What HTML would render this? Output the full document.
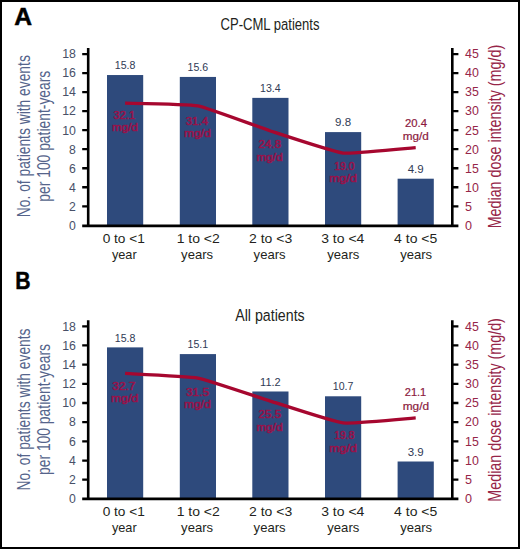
<!DOCTYPE html>
<html><head><meta charset="utf-8"><style>
html,body{margin:0;padding:0;background:#fff;}
svg{display:block;font-family:"Liberation Sans", sans-serif;}
</style></head><body>
<svg width="520" height="549" viewBox="0 0 520 549">
<rect x="0" y="0" width="520" height="549" fill="#fff"/>
<text x="14.2" y="24.85" textLength="17.8" lengthAdjust="spacingAndGlyphs" font-weight="bold" font-size="24.3" fill="#000" stroke="#000" stroke-width="0.5">A</text>
<text x="220.5" y="29.6" textLength="99" lengthAdjust="spacingAndGlyphs" font-size="16.3" fill="#231f20">CP-CML patients</text>
<rect x="107.0" y="75.04" width="36.2" height="150.26" fill="#2e4a7c"/>
<rect x="179.8" y="76.94" width="36.2" height="148.36" fill="#2e4a7c"/>
<rect x="252.3" y="97.87" width="36.2" height="127.43" fill="#2e4a7c"/>
<rect x="325.0" y="132.10" width="36.2" height="93.20" fill="#2e4a7c"/>
<rect x="397.6" y="178.70" width="36.2" height="46.60" fill="#2e4a7c"/>
<path d="M88.2,48.02 V225.9 M452.3,48.02 V225.9 M82.2,225.9 H458.4" stroke="#000" stroke-width="2.6" fill="none"/>
<path d=" M82.2,206.28 H88.2 M82.2,187.26 H88.2 M82.2,168.24 H88.2 M82.2,149.22 H88.2 M82.2,130.20 H88.2 M82.2,111.18 H88.2 M82.2,92.16 H88.2 M82.2,73.14 H88.2 M82.2,54.12 H88.2 M452.3,206.28 H458.4 M452.3,187.26 H458.4 M452.3,168.24 H458.4 M452.3,149.22 H458.4 M452.3,130.20 H458.4 M452.3,111.18 H458.4 M452.3,92.16 H458.4 M452.3,73.14 H458.4 M452.3,54.12 H458.4" stroke="#000" stroke-width="2.3" fill="none"/>
<text x="75.9" y="229.60000000000002" text-anchor="end" textLength="6.8" lengthAdjust="spacingAndGlyphs" font-size="13.5" fill="#485068">0</text>
<text x="75.9" y="210.58" text-anchor="end" textLength="6.8" lengthAdjust="spacingAndGlyphs" font-size="13.5" fill="#485068">2</text>
<text x="75.9" y="191.56000000000003" text-anchor="end" textLength="6.8" lengthAdjust="spacingAndGlyphs" font-size="13.5" fill="#485068">4</text>
<text x="75.9" y="172.54000000000002" text-anchor="end" textLength="6.8" lengthAdjust="spacingAndGlyphs" font-size="13.5" fill="#485068">6</text>
<text x="75.9" y="153.52000000000004" text-anchor="end" textLength="6.8" lengthAdjust="spacingAndGlyphs" font-size="13.5" fill="#485068">8</text>
<text x="75.9" y="134.50000000000003" text-anchor="end" textLength="13.7" lengthAdjust="spacingAndGlyphs" font-size="13.5" fill="#485068">10</text>
<text x="75.9" y="115.48" text-anchor="end" textLength="13.7" lengthAdjust="spacingAndGlyphs" font-size="13.5" fill="#485068">12</text>
<text x="75.9" y="96.46000000000002" text-anchor="end" textLength="13.7" lengthAdjust="spacingAndGlyphs" font-size="13.5" fill="#485068">14</text>
<text x="75.9" y="77.44000000000001" text-anchor="end" textLength="13.7" lengthAdjust="spacingAndGlyphs" font-size="13.5" fill="#485068">16</text>
<text x="75.9" y="58.42" text-anchor="end" textLength="13.7" lengthAdjust="spacingAndGlyphs" font-size="13.5" fill="#485068">18</text>
<text x="465.0" y="229.60000000000002" textLength="7.0" lengthAdjust="spacingAndGlyphs" font-size="13.5" fill="#962548">0</text>
<text x="465.0" y="210.58" textLength="7.0" lengthAdjust="spacingAndGlyphs" font-size="13.5" fill="#962548">5</text>
<text x="465.0" y="191.56" textLength="13.8" lengthAdjust="spacingAndGlyphs" font-size="13.5" fill="#962548">10</text>
<text x="465.0" y="172.54000000000002" textLength="13.8" lengthAdjust="spacingAndGlyphs" font-size="13.5" fill="#962548">15</text>
<text x="465.0" y="153.52" textLength="13.8" lengthAdjust="spacingAndGlyphs" font-size="13.5" fill="#962548">20</text>
<text x="465.0" y="134.5" textLength="13.8" lengthAdjust="spacingAndGlyphs" font-size="13.5" fill="#962548">25</text>
<text x="465.0" y="115.48" textLength="13.8" lengthAdjust="spacingAndGlyphs" font-size="13.5" fill="#962548">30</text>
<text x="465.0" y="96.46" textLength="13.8" lengthAdjust="spacingAndGlyphs" font-size="13.5" fill="#962548">35</text>
<text x="465.0" y="77.43999999999998" textLength="13.8" lengthAdjust="spacingAndGlyphs" font-size="13.5" fill="#962548">40</text>
<text x="465.0" y="58.42" textLength="13.8" lengthAdjust="spacingAndGlyphs" font-size="13.5" fill="#962548">45</text>
<path d="M125.10,103.19 C129.83,103.36 188.46,104.05 197.90,105.85 C207.34,107.66 260.96,127.89 270.40,130.96 C279.84,134.03 333.66,151.94 343.10,153.02 C352.54,154.11 410.98,148.04 415.70,147.70" stroke="#a6072f" stroke-width="3.3" fill="none" stroke-linecap="butt" stroke-linejoin="round"/>
<text x="125.1" y="69.242" text-anchor="middle" textLength="20.6" lengthAdjust="spacingAndGlyphs" font-size="11.2" fill="#2f3a55">15.8</text>
<text x="197.9" y="71.14400000000002" text-anchor="middle" textLength="20.6" lengthAdjust="spacingAndGlyphs" font-size="11.2" fill="#2f3a55">15.6</text>
<text x="270.40000000000003" y="92.06600000000002" text-anchor="middle" textLength="20.6" lengthAdjust="spacingAndGlyphs" font-size="11.2" fill="#2f3a55">13.4</text>
<text x="343.1" y="126.302" text-anchor="middle" textLength="16.0" lengthAdjust="spacingAndGlyphs" font-size="11.2" fill="#2f3a55">9.8</text>
<text x="415.70000000000005" y="172.901" text-anchor="middle" textLength="16.0" lengthAdjust="spacingAndGlyphs" font-size="11.2" fill="#2f3a55">4.9</text>
<text x="124.4" y="118.8" text-anchor="middle" textLength="21.599999999999998" lengthAdjust="spacingAndGlyphs" font-size="10.6" fill="#98124a" stroke="#98124a" stroke-width="0.55">32.1</text>
<text x="124.9" y="131.3" text-anchor="middle" textLength="26.0" lengthAdjust="spacingAndGlyphs" font-size="10.6" fill="#98124a" stroke="#98124a" stroke-width="0.55">mg/d</text>
<text x="196.9" y="125.0" text-anchor="middle" textLength="22.4" lengthAdjust="spacingAndGlyphs" font-size="10.6" fill="#98124a" stroke="#98124a" stroke-width="0.55">31.4</text>
<text x="197.5" y="137.0" text-anchor="middle" textLength="26.8" lengthAdjust="spacingAndGlyphs" font-size="10.6" fill="#98124a" stroke="#98124a" stroke-width="0.55">mg/d</text>
<text x="269.85" y="148.4" text-anchor="middle" textLength="22.5" lengthAdjust="spacingAndGlyphs" font-size="10.6" fill="#98124a" stroke="#98124a" stroke-width="0.55">24.8</text>
<text x="269.6" y="160.9" text-anchor="middle" textLength="26.2" lengthAdjust="spacingAndGlyphs" font-size="10.6" fill="#98124a" stroke="#98124a" stroke-width="0.55">mg/d</text>
<text x="344.4" y="169.8" text-anchor="middle" textLength="20.2" lengthAdjust="spacingAndGlyphs" font-size="10.6" fill="#98124a" stroke="#98124a" stroke-width="0.55">19.0</text>
<text x="343.1" y="182.3" text-anchor="middle" textLength="27.8" lengthAdjust="spacingAndGlyphs" font-size="10.6" fill="#98124a" stroke="#98124a" stroke-width="0.55">mg/d</text>
<text x="416.0" y="126.8" text-anchor="middle" textLength="22.0" lengthAdjust="spacingAndGlyphs" font-size="10.6" fill="#8c1a40" stroke="#8c1a40" stroke-width="0.2">20.4</text>
<text x="415.85" y="139.6" text-anchor="middle" textLength="26.1" lengthAdjust="spacingAndGlyphs" font-size="10.6" fill="#8c1a40" stroke="#8c1a40" stroke-width="0.2">mg/d</text>
<text x="123.75" y="243.20000000000002" text-anchor="middle" textLength="42.2" lengthAdjust="spacingAndGlyphs" font-size="12.6" fill="#231f20">0 to &lt;1</text>
<text x="124.3" y="259.0" text-anchor="middle" textLength="24.8" lengthAdjust="spacingAndGlyphs" font-size="12.6" fill="#231f20">year</text>
<text x="198.25" y="243.20000000000002" text-anchor="middle" textLength="43.2" lengthAdjust="spacingAndGlyphs" font-size="12.6" fill="#231f20">1 to &lt;2</text>
<text x="197.1" y="259.0" text-anchor="middle" textLength="32.0" lengthAdjust="spacingAndGlyphs" font-size="12.6" fill="#231f20">years</text>
<text x="270.6" y="243.20000000000002" text-anchor="middle" textLength="43.2" lengthAdjust="spacingAndGlyphs" font-size="12.6" fill="#231f20">2 to &lt;3</text>
<text x="269.6" y="259.0" text-anchor="middle" textLength="32.0" lengthAdjust="spacingAndGlyphs" font-size="12.6" fill="#231f20">years</text>
<text x="342.8" y="243.20000000000002" text-anchor="middle" textLength="43.2" lengthAdjust="spacingAndGlyphs" font-size="12.6" fill="#231f20">3 to &lt;4</text>
<text x="343.3" y="259.0" text-anchor="middle" textLength="32.0" lengthAdjust="spacingAndGlyphs" font-size="12.6" fill="#231f20">years</text>
<text x="415.7" y="243.20000000000002" text-anchor="middle" textLength="43.2" lengthAdjust="spacingAndGlyphs" font-size="12.6" fill="#231f20">4 to &lt;5</text>
<text x="416.15" y="259.0" text-anchor="middle" textLength="32.0" lengthAdjust="spacingAndGlyphs" font-size="12.6" fill="#231f20">years</text>
<text x="0" y="0" text-anchor="middle" textLength="162" lengthAdjust="spacingAndGlyphs" font-size="18.6" fill="#55648b" transform="translate(29.6,136.2) rotate(-90)">No. of patients with events</text>
<text x="0" y="0" text-anchor="middle" textLength="131" lengthAdjust="spacingAndGlyphs" font-size="18.6" fill="#55648b" transform="translate(50.1,136.2) rotate(-90)">per 100 patient-years</text>
<text x="0" y="0" text-anchor="middle" textLength="183.5" lengthAdjust="spacingAndGlyphs" font-size="19" fill="#962548" transform="translate(500.9,136.6) rotate(-90)">Median dose intensity (mg/d)</text>
<text x="15.3" y="288.8" textLength="15.3" lengthAdjust="spacingAndGlyphs" font-weight="bold" font-size="24.3" fill="#000" stroke="#000" stroke-width="0.5">B</text>
<text x="235.2" y="320.7" textLength="69.5" lengthAdjust="spacingAndGlyphs" font-size="16.3" fill="#231f20">All patients</text>
<rect x="107.0" y="347.38" width="36.2" height="151.52" fill="#2e4a7c"/>
<rect x="179.8" y="354.09" width="36.2" height="144.81" fill="#2e4a7c"/>
<rect x="252.3" y="391.49" width="36.2" height="107.41" fill="#2e4a7c"/>
<rect x="325.0" y="396.29" width="36.2" height="102.61" fill="#2e4a7c"/>
<rect x="397.6" y="461.50" width="36.2" height="37.40" fill="#2e4a7c"/>
<path d="M88.2,320.17999999999995 V498.9 M452.3,320.17999999999995 V498.9 M82.2,498.9 H458.4" stroke="#000" stroke-width="2.6" fill="none"/>
<path d=" M82.2,479.72 H88.2 M82.2,460.54 H88.2 M82.2,441.36 H88.2 M82.2,422.18 H88.2 M82.2,403.00 H88.2 M82.2,383.82 H88.2 M82.2,364.64 H88.2 M82.2,345.46 H88.2 M82.2,326.28 H88.2 M452.3,479.72 H458.4 M452.3,460.54 H458.4 M452.3,441.36 H458.4 M452.3,422.18 H458.4 M452.3,403.00 H458.4 M452.3,383.82 H458.4 M452.3,364.64 H458.4 M452.3,345.46 H458.4 M452.3,326.28 H458.4" stroke="#000" stroke-width="2.3" fill="none"/>
<text x="75.9" y="503.2" text-anchor="end" textLength="6.8" lengthAdjust="spacingAndGlyphs" font-size="13.5" fill="#485068">0</text>
<text x="75.9" y="484.02" text-anchor="end" textLength="6.8" lengthAdjust="spacingAndGlyphs" font-size="13.5" fill="#485068">2</text>
<text x="75.9" y="464.84" text-anchor="end" textLength="6.8" lengthAdjust="spacingAndGlyphs" font-size="13.5" fill="#485068">4</text>
<text x="75.9" y="445.65999999999997" text-anchor="end" textLength="6.8" lengthAdjust="spacingAndGlyphs" font-size="13.5" fill="#485068">6</text>
<text x="75.9" y="426.47999999999996" text-anchor="end" textLength="6.8" lengthAdjust="spacingAndGlyphs" font-size="13.5" fill="#485068">8</text>
<text x="75.9" y="407.3" text-anchor="end" textLength="13.7" lengthAdjust="spacingAndGlyphs" font-size="13.5" fill="#485068">10</text>
<text x="75.9" y="388.12" text-anchor="end" textLength="13.7" lengthAdjust="spacingAndGlyphs" font-size="13.5" fill="#485068">12</text>
<text x="75.9" y="368.94" text-anchor="end" textLength="13.7" lengthAdjust="spacingAndGlyphs" font-size="13.5" fill="#485068">14</text>
<text x="75.9" y="349.76" text-anchor="end" textLength="13.7" lengthAdjust="spacingAndGlyphs" font-size="13.5" fill="#485068">16</text>
<text x="75.9" y="330.58" text-anchor="end" textLength="13.7" lengthAdjust="spacingAndGlyphs" font-size="13.5" fill="#485068">18</text>
<text x="465.0" y="503.2" textLength="7.0" lengthAdjust="spacingAndGlyphs" font-size="13.5" fill="#962548">0</text>
<text x="465.0" y="484.02" textLength="7.0" lengthAdjust="spacingAndGlyphs" font-size="13.5" fill="#962548">5</text>
<text x="465.0" y="464.84" textLength="13.8" lengthAdjust="spacingAndGlyphs" font-size="13.5" fill="#962548">10</text>
<text x="465.0" y="445.65999999999997" textLength="13.8" lengthAdjust="spacingAndGlyphs" font-size="13.5" fill="#962548">15</text>
<text x="465.0" y="426.47999999999996" textLength="13.8" lengthAdjust="spacingAndGlyphs" font-size="13.5" fill="#962548">20</text>
<text x="465.0" y="407.3" textLength="13.8" lengthAdjust="spacingAndGlyphs" font-size="13.5" fill="#962548">25</text>
<text x="465.0" y="388.11999999999995" textLength="13.8" lengthAdjust="spacingAndGlyphs" font-size="13.5" fill="#962548">30</text>
<text x="465.0" y="368.94" textLength="13.8" lengthAdjust="spacingAndGlyphs" font-size="13.5" fill="#962548">35</text>
<text x="465.0" y="349.76" textLength="13.8" lengthAdjust="spacingAndGlyphs" font-size="13.5" fill="#962548">40</text>
<text x="465.0" y="330.58" textLength="13.8" lengthAdjust="spacingAndGlyphs" font-size="13.5" fill="#962548">45</text>
<path d="M125.10,373.46 C129.83,373.76 188.46,376.27 197.90,378.07 C207.34,379.86 260.96,398.16 270.40,401.08 C279.84,404.00 333.66,421.85 343.10,422.95 C352.54,424.04 410.98,418.28 415.70,417.96" stroke="#a6072f" stroke-width="3.3" fill="none" stroke-linecap="butt" stroke-linejoin="round"/>
<text x="125.1" y="341.578" text-anchor="middle" textLength="20.6" lengthAdjust="spacingAndGlyphs" font-size="11.2" fill="#2f3a55">15.8</text>
<text x="197.9" y="348.291" text-anchor="middle" textLength="20.6" lengthAdjust="spacingAndGlyphs" font-size="11.2" fill="#2f3a55">15.1</text>
<text x="270.40000000000003" y="385.69199999999995" text-anchor="middle" textLength="20.6" lengthAdjust="spacingAndGlyphs" font-size="11.2" fill="#2f3a55">11.2</text>
<text x="343.1" y="390.48699999999997" text-anchor="middle" textLength="20.6" lengthAdjust="spacingAndGlyphs" font-size="11.2" fill="#2f3a55">10.7</text>
<text x="415.70000000000005" y="455.69899999999996" text-anchor="middle" textLength="16.0" lengthAdjust="spacingAndGlyphs" font-size="11.2" fill="#2f3a55">3.9</text>
<text x="123.9" y="389.6" text-anchor="middle" textLength="23.2" lengthAdjust="spacingAndGlyphs" font-size="10.6" fill="#98124a" stroke="#98124a" stroke-width="0.55">32.7</text>
<text x="124.75" y="402.40000000000003" text-anchor="middle" textLength="27.3" lengthAdjust="spacingAndGlyphs" font-size="10.6" fill="#98124a" stroke="#98124a" stroke-width="0.55">mg/d</text>
<text x="197.5" y="396.0" text-anchor="middle" textLength="23.2" lengthAdjust="spacingAndGlyphs" font-size="10.6" fill="#98124a" stroke="#98124a" stroke-width="0.55">31.5</text>
<text x="197.5" y="408.2" text-anchor="middle" textLength="26.8" lengthAdjust="spacingAndGlyphs" font-size="10.6" fill="#98124a" stroke="#98124a" stroke-width="0.55">mg/d</text>
<text x="269.85" y="418.2" text-anchor="middle" textLength="22.5" lengthAdjust="spacingAndGlyphs" font-size="10.6" fill="#98124a" stroke="#98124a" stroke-width="0.55">25.5</text>
<text x="269.6" y="431.0" text-anchor="middle" textLength="26.2" lengthAdjust="spacingAndGlyphs" font-size="10.6" fill="#98124a" stroke="#98124a" stroke-width="0.55">mg/d</text>
<text x="344.4" y="439.2" text-anchor="middle" textLength="20.2" lengthAdjust="spacingAndGlyphs" font-size="10.6" fill="#98124a" stroke="#98124a" stroke-width="0.55">19.8</text>
<text x="343.1" y="452.0" text-anchor="middle" textLength="27.8" lengthAdjust="spacingAndGlyphs" font-size="10.6" fill="#98124a" stroke="#98124a" stroke-width="0.55">mg/d</text>
<text x="415.5" y="396.3" text-anchor="middle" textLength="21.5" lengthAdjust="spacingAndGlyphs" font-size="10.6" fill="#8c1a40" stroke="#8c1a40" stroke-width="0.2">21.1</text>
<text x="415.9" y="409.7" text-anchor="middle" textLength="26.400000000000002" lengthAdjust="spacingAndGlyphs" font-size="10.6" fill="#8c1a40" stroke="#8c1a40" stroke-width="0.2">mg/d</text>
<text x="123.75" y="515.9" text-anchor="middle" textLength="42.2" lengthAdjust="spacingAndGlyphs" font-size="12.6" fill="#231f20">0 to &lt;1</text>
<text x="124.3" y="531.7" text-anchor="middle" textLength="24.8" lengthAdjust="spacingAndGlyphs" font-size="12.6" fill="#231f20">year</text>
<text x="198.25" y="515.9" text-anchor="middle" textLength="43.2" lengthAdjust="spacingAndGlyphs" font-size="12.6" fill="#231f20">1 to &lt;2</text>
<text x="197.1" y="531.7" text-anchor="middle" textLength="32.0" lengthAdjust="spacingAndGlyphs" font-size="12.6" fill="#231f20">years</text>
<text x="270.6" y="515.9" text-anchor="middle" textLength="43.2" lengthAdjust="spacingAndGlyphs" font-size="12.6" fill="#231f20">2 to &lt;3</text>
<text x="269.6" y="531.7" text-anchor="middle" textLength="32.0" lengthAdjust="spacingAndGlyphs" font-size="12.6" fill="#231f20">years</text>
<text x="342.8" y="515.9" text-anchor="middle" textLength="43.2" lengthAdjust="spacingAndGlyphs" font-size="12.6" fill="#231f20">3 to &lt;4</text>
<text x="343.3" y="531.7" text-anchor="middle" textLength="32.0" lengthAdjust="spacingAndGlyphs" font-size="12.6" fill="#231f20">years</text>
<text x="415.7" y="515.9" text-anchor="middle" textLength="43.2" lengthAdjust="spacingAndGlyphs" font-size="12.6" fill="#231f20">4 to &lt;5</text>
<text x="416.15" y="531.7" text-anchor="middle" textLength="32.0" lengthAdjust="spacingAndGlyphs" font-size="12.6" fill="#231f20">years</text>
<text x="0" y="0" text-anchor="middle" textLength="162" lengthAdjust="spacingAndGlyphs" font-size="18.6" fill="#55648b" transform="translate(29.6,409.5) rotate(-90)">No. of patients with events</text>
<text x="0" y="0" text-anchor="middle" textLength="131" lengthAdjust="spacingAndGlyphs" font-size="18.6" fill="#55648b" transform="translate(50.1,409.5) rotate(-90)">per 100 patient-years</text>
<text x="0" y="0" text-anchor="middle" textLength="183.5" lengthAdjust="spacingAndGlyphs" font-size="19" fill="#962548" transform="translate(500.9,409.9) rotate(-90)">Median dose intensity (mg/d)</text>
<rect x="1" y="1" width="518" height="547" fill="none" stroke="#000" stroke-width="2"/>
</svg>
</body></html>
